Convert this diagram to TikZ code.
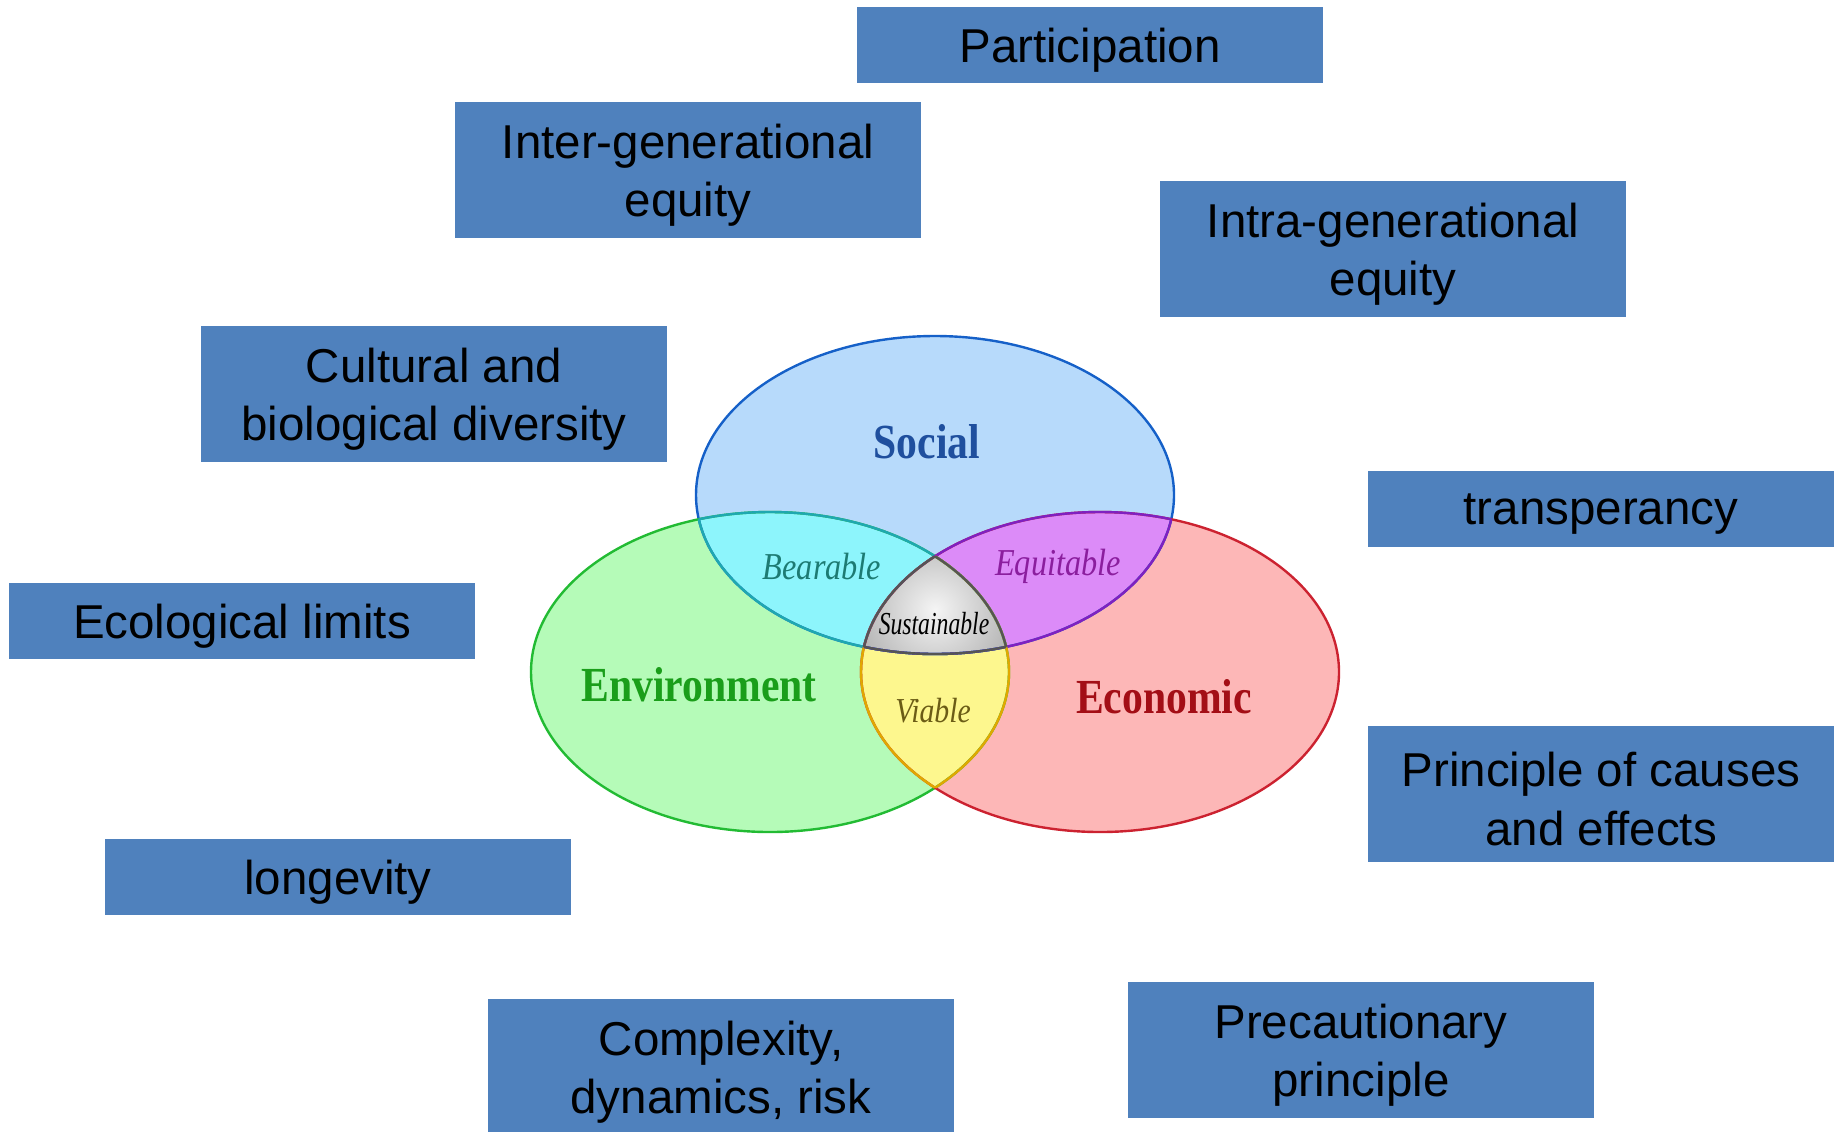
\documentclass[tikz,border=0pt]{standalone}
\usepackage{fontspec}
\setmainfont{Liberation Sans}
\newfontfamily\vennfont[FakeStretch=0.85]{Liberation Serif}
\newfontfamily\sustfont[FakeStretch=0.74]{Liberation Serif}
\definecolor{boxblue}{HTML}{4F81BD}
\definecolor{socfill}{HTML}{B7DAFB}
\definecolor{envfill}{HTML}{B5FBB8}
\definecolor{ecofill}{HTML}{FDB7B7}
\definecolor{bearfill}{HTML}{8DF5FC}
\definecolor{equifill}{HTML}{DC8BF8}
\definecolor{viafill}{HTML}{FDF78E}
\definecolor{socline}{HTML}{1560C8}
\definecolor{envline}{HTML}{22BB33}
\definecolor{ecoline}{HTML}{CC2230}
\definecolor{bearline}{HTML}{1FA8B0}
\definecolor{equiline}{HTML}{8020C0}
\definecolor{vialine}{HTML}{E0A800}
\definecolor{sustline}{HTML}{555555}
\definecolor{soctext}{HTML}{1F4F9E}
\definecolor{envtext}{HTML}{1A9E1A}
\definecolor{ecotext}{HTML}{A30E16}
\definecolor{beartext}{HTML}{1D7B73}
\definecolor{equitext}{HTML}{8B1E9E}
\definecolor{viatext}{HTML}{6B5C16}
\begin{document}
\begin{tikzpicture}[x=0.5pt,y=-0.5pt,
  box/.style={fill=boxblue, draw=none, minimum width=233pt, inner sep=0pt},
  boxtext/.style={align=center, yshift=-2.6pt, inner sep=0pt,
    font=\fontsize{23.75}{29.25}\selectfont},
  oneline/.style={minimum height=38pt},
  twoline/.style={minimum height=68pt},
  bigvenn/.style={font=\vennfont\bfseries\fontsize{24.5}{28}\selectfont},
  smallvenn/.style={font=\vennfont\itshape\fontsize{19}{22}\selectfont},
  ring/.style={line width=1.2pt}]
\useasboundingbox (0,0) rectangle (1834,1131);
\def\pSoc{(935,495) ellipse [x radius=119.5pt, y radius=79.5pt]}
\def\pEnv{(770,672) ellipse [x radius=119.5pt, y radius=80pt]}
\def\pEco{(1100,672) ellipse [x radius=119.5pt, y radius=80pt]}
% base fills
\fill[socfill] \pSoc;
\fill[envfill] \pEnv;
\fill[ecofill] \pEco;
% pairwise overlaps
\begin{scope}\clip \pSoc; \fill[bearfill] \pEnv; \end{scope}
\begin{scope}\clip \pSoc; \fill[equifill] \pEco; \end{scope}
\begin{scope}\clip \pEnv; \fill[viafill] \pEco; \end{scope}
\begin{scope}\clip \pSoc; \clip \pEnv; \clip \pEco;
  \shade[inner color=gray!8, outer color=gray!65] (935,610) circle [radius=45pt];
\end{scope}
% borders
\draw[ring, socline] \pSoc;
\draw[ring, envline] \pEnv;
\draw[ring, ecoline] \pEco;
\begin{scope}\clip \pEnv; \draw[ring, bearline] \pSoc; \draw[ring, vialine] \pEco; \end{scope}
\begin{scope}\clip \pSoc; \draw[ring, bearline] \pEnv; \draw[ring, equiline] \pEco; \end{scope}
\begin{scope}\clip \pEco; \draw[ring, equiline] \pSoc; \draw[ring, vialine] \pEnv; \end{scope}
\begin{scope}\clip \pSoc; \clip \pEnv; \draw[ring, sustline] \pEco; \end{scope}
\begin{scope}\clip \pSoc; \clip \pEco; \draw[ring, sustline] \pEnv; \end{scope}
\begin{scope}\clip \pEnv; \clip \pEco; \draw[ring, sustline] \pSoc; \end{scope}
% venn labels
\node[bigvenn, text=soctext] (social) at (927,442) {Social};
\node[bigvenn, text=envtext] (environment) at (699,685) {Environment};
\node[bigvenn, text=ecotext] (economic) at (1164,697) {Economic};
\node[smallvenn, text=beartext] (bearable) at (822,566) {Bearable};
\node[smallvenn, text=equitext] (equitable) at (1058,566) {Equitable};
\node[smallvenn, text=viatext, font=\vennfont\itshape\fontsize{17.5}{20}\selectfont] (viable) at (933,711) {Viable};
\node[font=\sustfont\itshape\fontsize{16}{18}\selectfont, text=black] (sustainable) at (934,624) {Sustainable};
% principle boxes
\node[box, oneline, label={[boxtext]center:Participation}] (participation) at (1090,45) {};
\node[box, twoline, label={[boxtext]center:Inter-generational\\equity}] (inter) at (688,170) {};
\node[box, twoline, label={[boxtext]center:Intra-generational\\equity}] (intra) at (1393,249) {};
\node[box, twoline, label={[boxtext]center:Cultural and\\biological diversity}] (cultural) at (434,394) {};
\node[box, oneline, label={[boxtext]center:transperancy}] (transp) at (1601,509) {};
\node[box, oneline, label={[boxtext]center:Ecological limits}] (ecolimits) at (242,621) {};
\node[box, twoline, label={[boxtext]center:Principle of causes\\and effects}] (causes) at (1601,794) {};
\node[box, oneline, label={[boxtext]center:longevity}] (longevity) at (338,877) {};
\node[box, twoline, label={[boxtext]center:Complexity,\\dynamics, risk}] (complexity) at (721,1067) {};
\node[box, twoline, label={[boxtext]center:Precautionary\\principle}] (precaution) at (1361,1050) {};
\end{tikzpicture}
\end{document}
